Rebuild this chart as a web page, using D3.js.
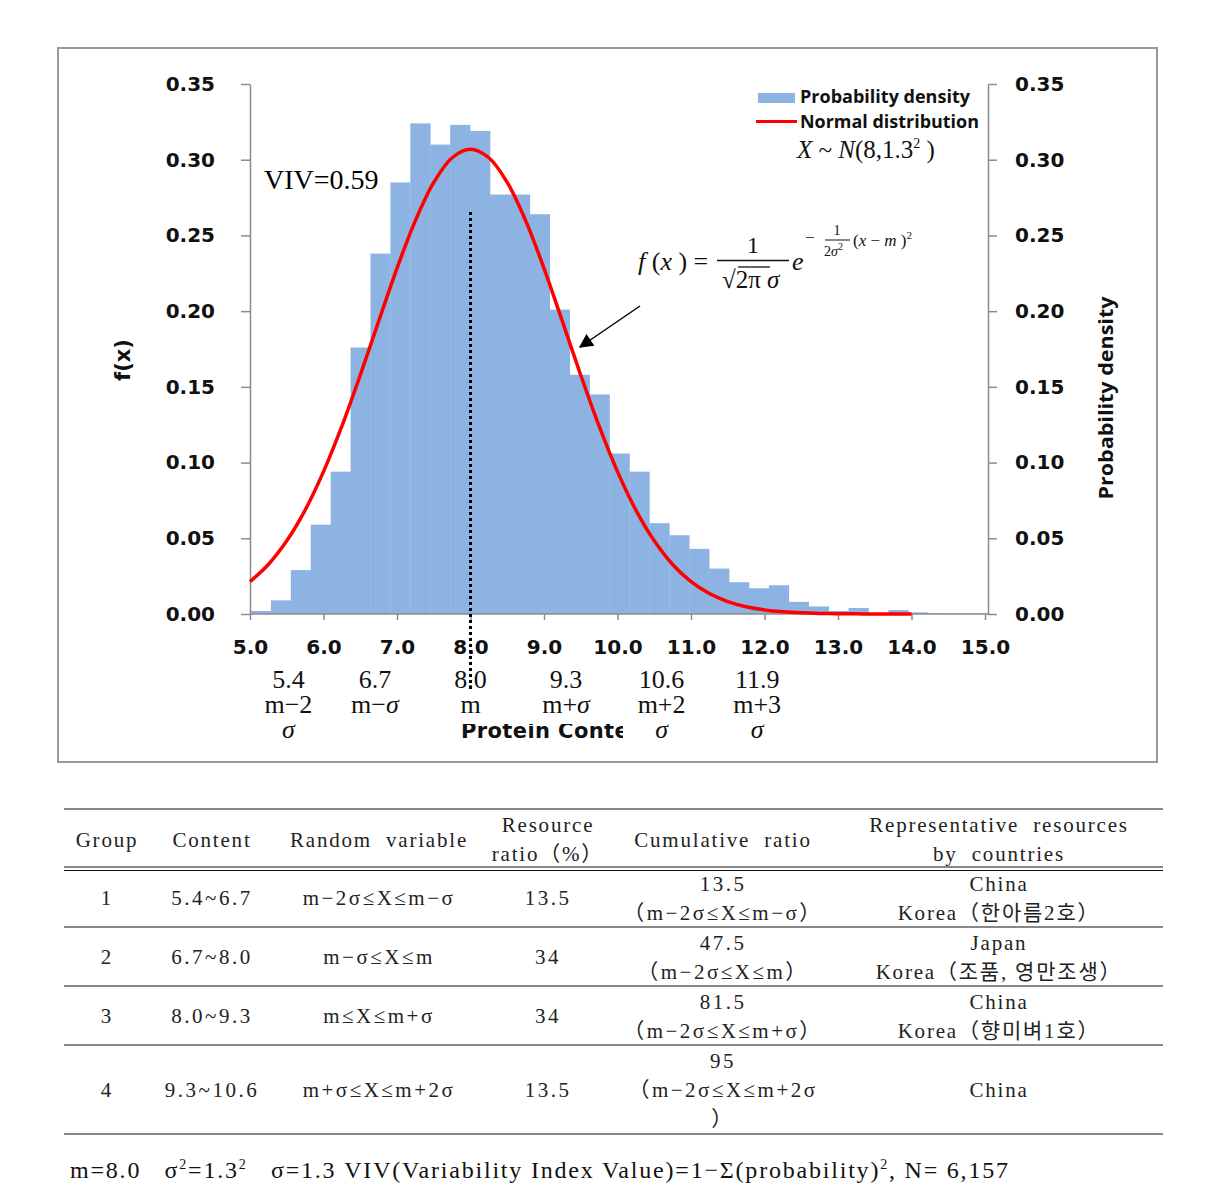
<!DOCTYPE html>
<html>
<head>
<meta charset="utf-8">
<script src="https://cdn.jsdelivr.net/npm/d3@7"></script>
<style>
  html, body { margin: 0; padding: 0; background: #fff; }
  svg { display: block; }
  .tick text { font-family: "DejaVu Sans", Verdana, sans-serif; font-weight: bold; }
</style>
</head>
<body>
<svg id="chart" width="1226" height="1188"></svg>
<script>
// ---------------- data ----------------
const xTicks = [5, 6, 7, 8, 9, 10, 11, 12, 13, 14, 15];
const yTicks = [0, 0.05, 0.10, 0.15, 0.20, 0.25, 0.30, 0.35];
const binRange = [5.0, 15.0];
// probability density of each histogram bin (37 bins over 5.0 – 15.0)
const densities = [0.002, 0.009, 0.029, 0.059, 0.094, 0.176, 0.238, 0.285, 0.324, 0.310,
                   0.323, 0.319, 0.277, 0.277, 0.264, 0.201, 0.158, 0.145, 0.106, 0.094,
                   0.060, 0.052, 0.043, 0.030, 0.021, 0.017, 0.019, 0.008, 0.005, 0.002,
                   0.004, 0.0005, 0.0026, 0.0011, 0.0005, 0.0003, 0.0003];
// normal distribution curve
const curveX = [5.0, 5.25, 5.5, 5.75, 6.0, 6.25, 6.5, 6.75, 7.0, 7.25, 7.5, 7.75, 8.0,
                8.25, 8.5, 8.75, 9.0, 9.25, 9.5, 9.75, 10.0, 10.25, 10.5, 10.75, 11.0,
                11.25, 11.5, 11.75, 12.0, 12.25, 12.5, 12.75, 13.0, 13.25, 13.5, 13.75, 14.0];
const curveY = [0.0214, 0.0327, 0.0483, 0.0686, 0.0940, 0.1240, 0.1577, 0.1933, 0.2283, 0.2598,
                0.2850, 0.3013, 0.3069, 0.3013, 0.2850, 0.2598, 0.2283, 0.1933, 0.1577, 0.1240,
                0.0940, 0.0686, 0.0483, 0.0327, 0.0214, 0.0135, 0.0082, 0.0048, 0.0027, 0.0015,
                0.0008, 0.0004, 0.0002, 0.0001, 0.0000, 0.0000, 0.0000];
const meanValue = 8.0;
const sigmaPoints = [5.4, 6.7, 8.0, 9.3, 10.6, 11.9];
const sigmaValueLabels = ["5.4", "6.7", "8.0", "9.3", "10.6", "11.9"];
const sigmaNames = ["m−2", "m−σ", "m", "m+σ", "m+2", "m+3"];
const sigmaTails = ["σ", "", "", "", "σ", "σ"];
const legendLabels = ["Probability density", "Normal distribution"];

const tableHeader = [["Group"], ["Content"], ["Random\u00a0 variable"], ["Resource", "ratio（%）"],
                     ["Cumulative\u00a0 ratio"], ["Representative\u00a0 resources", "by\u00a0 countries"]];
const groups = ["1", "2", "3", "4"];
const contents = ["5.4~6.7", "6.7~8.0", "8.0~9.3", "9.3~10.6"];
const randomVars = ["m−2σ≤X≤m−σ", "m−σ≤X≤m", "m≤X≤m+σ", "m+σ≤X≤m+2σ"];
const resourceRatios = ["13.5", "34", "34", "13.5"];
const cumulative = [["13.5", "（m−2σ≤X≤m−σ）"], ["47.5", "（m−2σ≤X≤m）"],
                    ["81.5", "（m−2σ≤X≤m+σ）"], ["95", "（m−2σ≤X≤m+2σ", "）"]];
const representative = [["China", "Korea（한아름2호）"], ["Japan", "Korea（조품, 영만조생）"],
                        ["China", "Korea（향미벼1호）"], ["China"]];

// ---------------- drawing ----------------
const svg = d3.select("#chart");
const blue = "#8db3e2", red = "#ff0000", axisGray = "#8c8c8c";
const serif = "'Liberation Serif', 'Times New Roman', serif";
const sans = "'Open Sans', 'DejaVu Sans', sans-serif";

// outer frame
svg.append("rect").attr("x", 58).attr("y", 48).attr("width", 1099).attr("height", 714)
  .attr("fill", "none").attr("stroke", "#9a9a9a").attr("stroke-width", 2);

const x = d3.scaleLinear().domain([5, 15]).range([250, 985]);
const y = d3.scaleLinear().domain([0, 0.35]).range([614, 84]);
const band = d3.scaleBand().domain(d3.range(densities.length))
  .range([x(binRange[0]) + 1, x(binRange[1]) + 3]).padding(0);

// histogram
svg.append("g").selectAll("rect").data(densities).join("rect")
  .attr("x", (d, i) => band(i)).attr("width", band.bandwidth() + 0.3)
  .attr("y", d => y(d)).attr("height", d => y(0) - y(d))
  .attr("fill", blue);

// axes
const axisStyle = g => {
  g.select(".domain").attr("stroke", axisGray).attr("stroke-width", 1.5);
  g.selectAll(".tick line").attr("stroke", axisGray).attr("stroke-width", 1.5);
  g.selectAll(".tick text").attr("fill", "#111").attr("font-size", 20);
};
svg.append("g").attr("transform", "translate(250,0)")
  .call(d3.axisLeft(y).tickValues(yTicks).tickFormat(d3.format(".2f")).tickSize(9).tickPadding(26).tickSizeOuter(0))
  .call(axisStyle);
svg.append("g").attr("transform", "translate(988,0)")
  .call(d3.axisRight(y).tickValues(yTicks).tickFormat(d3.format(".2f")).tickSize(9).tickPadding(18).tickSizeOuter(0))
  .call(axisStyle);
const xg = svg.append("g").attr("transform", "translate(0,614)")
  .call(d3.axisBottom(x).tickValues(xTicks).tickFormat(d3.format(".1f")).tickSize(6).tickPadding(20).tickSizeOuter(0))
  .call(axisStyle);
xg.select(".domain").attr("d", `M${x(5)},0H988`);
xg.selectAll(".tick text").attr("dx", 0);

// normal curve
const line = d3.line().x((d, i) => x(curveX[i])).y(d => y(d)).curve(d3.curveCatmullRom);
svg.append("path").datum(curveY).attr("d", line)
  .attr("fill", "none").attr("stroke", red).attr("stroke-width", 3.5);

// white box that hides the bottom of the 9.0 tick label
svg.append("rect").attr("x", 522).attr("y", 657).attr("width", 78).attr("height", 60).attr("fill", "#fff");

// axis title (partly hidden)
svg.append("clipPath").attr("id", "ptclip").append("rect")
  .attr("x", 455).attr("y", 724).attr("width", 168).attr("height", 30);
svg.append("text").attr("clip-path", "url(#ptclip)")
  .attr("x", 461).attr("y", 738).attr("font-family", "'DejaVu Sans', sans-serif")
  .attr("font-weight", "bold").attr("font-size", 21).attr("letter-spacing", 0.4).attr("fill", "#111")
  .text("Protein Content");

// sigma annotations
const ann = svg.append("g").attr("font-family", serif).attr("font-size", 26)
  .attr("text-anchor", "middle").attr("fill", "#111");
sigmaPoints.forEach((v, i) => {
  const cx = x(v) + (i === 0 ? 9 : 0);
  ann.append("text").attr("x", cx).attr("y", 688).text(sigmaValueLabels[i]);
  ann.append("text").attr("x", cx).attr("y", 713)
    .html(sigmaNames[i].replace("σ", "<tspan font-style='italic'>σ</tspan>"));
  if (sigmaTails[i]) ann.append("text").attr("x", cx).attr("y", 738)
    .attr("font-style", "italic").text(sigmaTails[i]);
});

// mean dotted line
svg.append("line").attr("x1", x(meanValue)).attr("x2", x(meanValue))
  .attr("y1", 212).attr("y2", 692)
  .attr("stroke", "#000").attr("stroke-width", 3).attr("stroke-dasharray", "3,3");

// axis titles
svg.append("text").attr("transform", "translate(130,360) rotate(-90)")
  .attr("text-anchor", "middle").attr("font-family", "'DejaVu Sans', sans-serif")
  .attr("font-weight", "bold").attr("font-size", 21).attr("fill", "#111").text("f(x)");
svg.append("text").attr("transform", "translate(1113,398) rotate(-90)")
  .attr("text-anchor", "middle").attr("font-family", sans)
  .attr("font-weight", "bold").attr("font-size", 20).attr("fill", "#111")
  .attr("textLength", 203).attr("lengthAdjust", "spacingAndGlyphs").text("Probability density");

// VIV
svg.append("text").attr("x", 264).attr("y", 189).attr("font-family", serif)
  .attr("font-size", 28).attr("fill", "#000").text("VIV=0.59");

// legend
svg.append("rect").attr("x", 758).attr("y", 93).attr("width", 37).attr("height", 10).attr("fill", blue);
svg.append("line").attr("x1", 756).attr("x2", 797).attr("y1", 121.5).attr("y2", 121.5)
  .attr("stroke", red).attr("stroke-width", 3);
legendLabels.forEach((t, i) => {
  svg.append("text").attr("x", 800).attr("y", 103 + i * 24.5)
    .attr("font-family", sans).attr("font-weight", "bold").attr("font-size", 17)
    .attr("fill", "#111").attr("textLength", i ? 179 : 170).attr("lengthAdjust", "spacingAndGlyphs").text(t);
});
svg.append("text").attr("x", 797).attr("y", 158).attr("font-family", serif)
  .attr("font-size", 25).attr("fill", "#111")
  .html("<tspan font-style='italic'>X</tspan> ~ <tspan font-style='italic'>N</tspan>(8,1.3<tspan dy='-10' font-size='14'>2</tspan><tspan dy='10'> )</tspan>");

// formula
const fm = svg.append("g").attr("font-family", serif).attr("fill", "#111");
fm.append("text").attr("x", 638).attr("y", 270).attr("font-size", 26)
  .html("<tspan font-style='italic'>f</tspan> (<tspan font-style='italic'>x</tspan> ) =");
fm.append("text").attr("x", 753).attr("y", 253).attr("font-size", 24).attr("text-anchor", "middle").text("1");
fm.append("line").attr("x1", 717).attr("x2", 789).attr("y1", 260.5).attr("y2", 260.5).attr("stroke", "#111").attr("stroke-width", 1.4);
fm.append("text").attr("x", 722).attr("y", 288).attr("font-size", 25)
  .html("√2π <tspan font-style='italic'>σ</tspan>");
fm.append("line").attr("x1", 738).attr("x2", 770).attr("y1", 267).attr("y2", 267).attr("stroke", "#111").attr("stroke-width", 1.3);
fm.append("text").attr("x", 792).attr("y", 270).attr("font-size", 26).attr("font-style", "italic").text("e");
fm.append("text").attr("x", 805).attr("y", 243).attr("font-size", 17).text("−");
fm.append("text").attr("x", 837).attr("y", 235).attr("font-size", 14).attr("text-anchor", "middle").text("1");
fm.append("line").attr("x1", 825).attr("x2", 850).attr("y1", 240).attr("y2", 240).attr("stroke", "#111").attr("stroke-width", 1);
fm.append("text").attr("x", 824).attr("y", 256).attr("font-size", 14)
  .html("2<tspan font-style='italic'>σ</tspan><tspan dy='-6' font-size='10'>2</tspan>");
fm.append("text").attr("x", 853).attr("y", 246).attr("font-size", 17)
  .html("(<tspan font-style='italic'>x</tspan> − <tspan font-style='italic'>m</tspan> )<tspan dy='-7' font-size='11'>2</tspan>");

// arrow
svg.append("defs").append("marker").attr("id", "arr").attr("viewBox", "0 0 10 10")
  .attr("refX", 9).attr("refY", 5).attr("markerWidth", 16).attr("markerHeight", 14)
  .attr("markerUnits", "userSpaceOnUse").attr("orient", "auto")
  .append("path").attr("d", "M0,0L10,5L0,10z").attr("fill", "#000");
svg.append("line").attr("x1", 640).attr("y1", 306).attr("x2", 580).attr("y2", 347)
  .attr("stroke", "#000").attr("stroke-width", 1.5).attr("marker-end", "url(#arr)");

// ---------------- table ----------------
const tb = svg.append("g").attr("font-family", serif + ", 'Noto Sans CJK KR'")
  .attr("font-size", 21).attr("fill", "#222").attr("text-anchor", "middle")
  .attr("letter-spacing", 1.8);
const colX = [107, 212, 379, 548, 723, 999];
const hl = (yy, w) => tb.append("line").attr("x1", 64).attr("x2", 1163).attr("y1", yy).attr("y2", yy)
  .attr("stroke", "#111").attr("stroke-width", w || 1.2);
hl(809); hl(867); hl(870.5); hl(927); hl(986); hl(1045); hl(1134);

tableHeader.forEach((lines, c) => {
  if (lines.length === 1) tb.append("text").attr("x", colX[c]).attr("y", 847).text(lines[0]);
  else lines.forEach((t, k) => tb.append("text").attr("x", colX[c]).attr("y", 832 + k * 29).text(t));
});
const rowMid = [898, 957, 1016, 1090];
groups.forEach((g, r) => {
  const base = rowMid[r] + 7;
  tb.append("text").attr("x", colX[0]).attr("y", base).text(g);
  tb.append("text").attr("x", colX[1]).attr("y", base).attr("letter-spacing", 2.5).text(contents[r]);
  tb.append("text").attr("x", colX[2]).attr("y", base).attr("letter-spacing", 2.5).text(randomVars[r]);
  tb.append("text").attr("x", colX[3]).attr("y", base).attr("letter-spacing", 2.5).text(resourceRatios[r]);
  const cl = cumulative[r];
  cl.forEach((t, k) => tb.append("text").attr("x", colX[4]).attr("y", base - (cl.length - 1) * 14.5 + k * 29)
    .attr("letter-spacing", 2.5).text(t));
  const rp = representative[r];
  rp.forEach((t, k) => tb.append("text").attr("x", colX[5]).attr("y", base - (rp.length - 1) * 14.5 + k * 29)
    .attr("letter-spacing", 1.8).text(t));
});

// footer
svg.append("text").attr("x", 70).attr("y", 1178).attr("font-family", serif).attr("font-size", 24)
  .attr("fill", "#111").attr("textLength", 938).attr("lengthAdjust", "spacing")
  .html("m=8.0\u00a0\u00a0 σ<tspan dy='-9' font-size='14'>2</tspan><tspan dy='9'>=1.3</tspan><tspan dy='-9' font-size='14'>2</tspan><tspan dy='9'>\u00a0\u00a0 σ=1.3 VIV(Variability Index Value)=1−Σ(probability)</tspan><tspan dy='-9' font-size='14'>2</tspan><tspan dy='9'>, N= 6,157</tspan>");
</script>
</body>
</html>
